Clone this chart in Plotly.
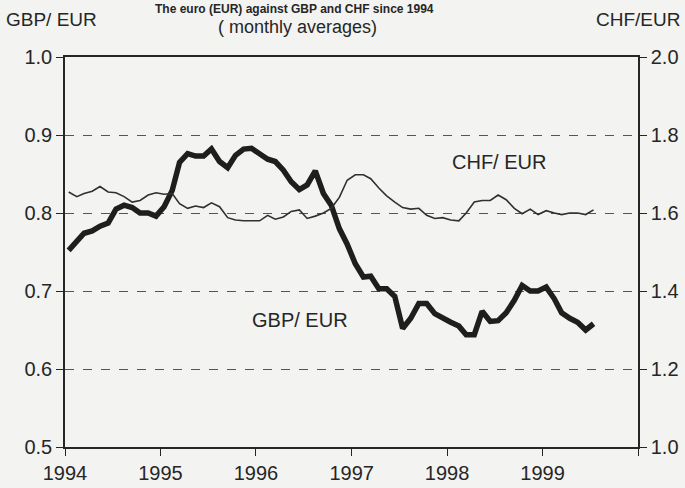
import pandas as pd
import plotly.graph_objects as go

# monthly averages, Jan 1994 - Jul 1999
months = pd.date_range("1994-01-01", periods=67, freq="MS") + pd.Timedelta(days=14)

gbp_eur = [
    0.752, 0.763, 0.774, 0.777, 0.783, 0.787, 0.805, 0.810, 0.807, 0.800, 0.800, 0.796,
    0.808, 0.829, 0.865, 0.876, 0.873, 0.873, 0.882, 0.866, 0.858, 0.874, 0.882, 0.883,
    0.876, 0.869, 0.866, 0.855, 0.840, 0.830, 0.836, 0.854, 0.825, 0.810, 0.780, 0.760,
    0.735, 0.718, 0.719, 0.703, 0.703, 0.693, 0.652, 0.665, 0.684, 0.684, 0.671, 0.665,
    0.660, 0.655, 0.644, 0.644, 0.674, 0.661, 0.662, 0.672, 0.688, 0.707, 0.700, 0.700,
    0.705, 0.690, 0.672, 0.665, 0.660, 0.650, 0.658,
]

chf_eur = [
    1.654, 1.642, 1.650, 1.656, 1.668, 1.654, 1.652, 1.642, 1.628, 1.632, 1.646, 1.652,
    1.648, 1.650, 1.624, 1.612, 1.618, 1.614, 1.626, 1.616, 1.588, 1.582, 1.580, 1.580,
    1.580, 1.594, 1.584, 1.590, 1.604, 1.608, 1.586, 1.592, 1.600, 1.612, 1.640, 1.684,
    1.698, 1.698, 1.688, 1.664, 1.644, 1.628, 1.614, 1.610, 1.612, 1.594, 1.586, 1.588,
    1.582, 1.580, 1.600, 1.628, 1.632, 1.632, 1.646, 1.634, 1.612, 1.598, 1.610, 1.596,
    1.606, 1.600, 1.596, 1.600, 1.600, 1.596, 1.608,
]

year_ticks = pd.date_range("1994-01-01", "2000-01-01", freq="YS")
year_labels = ["1994", "1995", "1996", "1997", "1998", "1999", ""]

ink = "#262626"
font = "Liberation Sans, Arial, sans-serif"

fig = go.Figure()

fig.add_trace(go.Scatter(x=months, y=chf_eur, mode="lines", name="CHF/ EUR",
                         line=dict(color="#303030", width=1.6), yaxis="y2"))
fig.add_trace(go.Scatter(x=months, y=gbp_eur, mode="lines", name="GBP/ EUR",
                         line=dict(color="#1e1e1e", width=5.5)))

# --- texts ---
fig.add_annotation(text="<b>The euro (EUR) against GBP and CHF since 1994</b>", xref="paper", yref="paper",
                   x=0.4, y=1.146, showarrow=False, font=dict(size=12, color=ink), yanchor="top")
fig.add_annotation(text="GBP/ EUR", xref="paper", yref="paper", x=-0.106, y=1.095,
                   xanchor="left", yanchor="middle",
                   showarrow=False, font=dict(size=19, color=ink))
fig.add_annotation(text="( monthly averages)", xref="paper", yref="paper", x=0.406, y=1.077,
                   xanchor="center", yanchor="middle",
                   showarrow=False, font=dict(size=18, color=ink))
fig.add_annotation(text="CHF/EUR", xref="paper", yref="paper", x=1.077, y=1.095,
                   xanchor="right", yanchor="middle",
                   showarrow=False, font=dict(size=19, color=ink))
fig.add_annotation(text="CHF/ EUR", x="1998-07-20", y=0.865, showarrow=False,
                   font=dict(size=20, color=ink))
fig.add_annotation(text="GBP/ EUR", x="1996-06-17", y=0.663, showarrow=False,
                   font=dict(size=20, color=ink))

fig.update_layout(
    width=685, height=488,
    margin=dict(l=65, r=47, t=57, b=41),
    paper_bgcolor="#f3f3f1",
    plot_bgcolor="#f3f3f1",
    showlegend=False,
    font=dict(family=font, size=20, color=ink),
    xaxis=dict(
        type="date", range=["1994-01-01", "2000-01-01"],
        tickvals=year_ticks, ticktext=year_labels,
        ticks="outside", ticklen=7, tickcolor=ink,
        showline=True, linecolor=ink, linewidth=1.5, mirror=True,
        showgrid=False, zeroline=False, automargin=False,
    ),
    yaxis=dict(
        range=[0.5, 1.0], dtick=0.1, tickformat=".1f",
        ticks="outside", ticklen=7, tickcolor=ink,
        showline=True, linecolor=ink, linewidth=1.5,
        showgrid=True, gridcolor="#555555", gridwidth=1, griddash="dash",
        zeroline=False, automargin=False,
    ),
    yaxis2=dict(
        range=[1.0, 2.0], dtick=0.2, tickformat=".1f",
        overlaying="y", side="right",
        ticks="outside", ticklen=7, tickcolor=ink,
        showline=True, linecolor=ink, linewidth=1.5,
        showgrid=False, zeroline=False, automargin=False,
    ),
)

# the page body has a default 8px margin; drop it so the figure fills the window
fig.write_html("out.html", config={"displayModeBar": False},
               post_script="document.body.style.margin='0';")
